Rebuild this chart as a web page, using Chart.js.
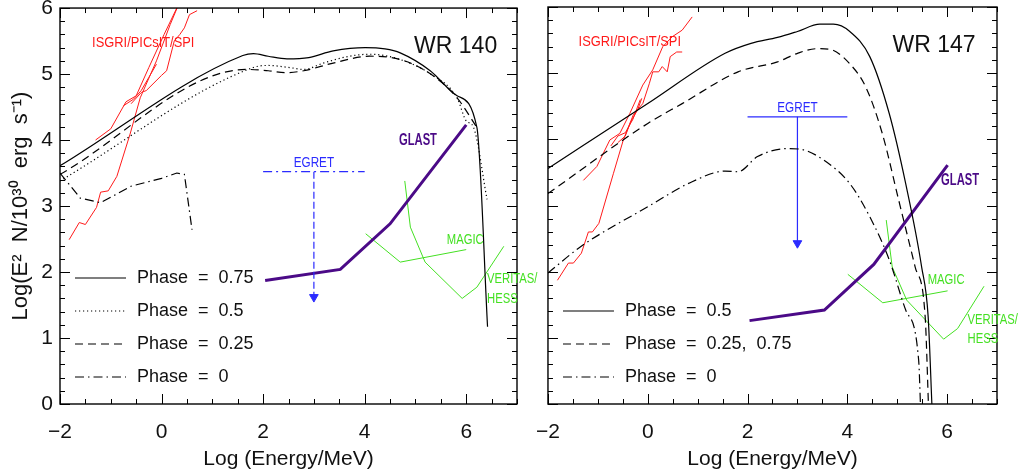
<!DOCTYPE html>
<html>
<head>
<meta charset="utf-8">
<script src="https://cdn.jsdelivr.net/npm/chart.js@4"></script>
<style>
html, body { margin: 0; padding: 0; background: #fff; }
#wrap { position: relative; width: 1023px; height: 472px; overflow: hidden; }
canvas { position: absolute; top: 0; }
</style>
</head>
<body>
<div id="wrap">
<canvas id="left" width="1023" height="472" style="left:0"></canvas>
<canvas id="right" width="503" height="472" style="left:520px"></canvas>
</div>
<script>
// ---- WR 140 model curves [log E, log(E^2 N)] ----
const wr140Phase075 = [[-2,3.61],[1.6,5.28],[1.81,5.31],[2.1,5.27],[2.47,5.23],[2.9,5.25],[3.38,5.35],[4.01,5.40],[4.4,5.38],[4.7,5.32],[5.29,5.05],[5.82,4.67],[6.21,4.19],[6.42,1.17]];
const wr140Phase05 = [[-2,3.38],[1.81,5.10],[2.1,5.13],[2.5,5.10],[2.8,5.07],[3.2,5.17],[3.7,5.27],[4.1,5.30],[4.7,5.22],[5.3,5.00],[5.82,4.64],[6.0,4.29],[6.14,4.20],[6.41,3.10]];
const wr140Phase025 = [[-2,3.48],[1.68,5.07],[2.1,5.05],[2.44,5.02],[2.8,5.05],[3.4,5.17],[4.1,5.27],[4.7,5.22],[5.3,5.00],[5.82,4.64],[6.21,4.19]];
const wr140Phase0 = [[-2,3.50],[-1.6,3.12],[-1.2,3.05],[-0.6,3.30],[0,3.42],[0.3,3.50],[0.45,3.48],[0.6,2.64]];

// ---- WR 147 model curves ----
const wr147Phase05 = [[-2,3.56],[0,4.54],[1.55,5.30],[2.07,5.45],[2.6,5.54],[3.0,5.63],[3.45,5.74],[3.72,5.74],[4.05,5.63],[4.45,5.25],[4.84,4.39],[5.17,3.33],[5.49,2.07],[5.62,1.32],[5.70,-0.1]];
const wr147Phase025 = [[-2,3.18],[0,4.24],[0.69,4.54],[1.81,5.02],[2.6,5.17],[3.0,5.30],[3.39,5.37],[3.65,5.36],[4.05,5.14],[4.37,4.79],[4.7,4.09],[5.03,3.08],[5.36,2.07],[5.56,1.32],[5.63,-0.1]];
const wr147Phase0 = [[-2,1.98],[-1.34,2.38],[0,2.98],[0.89,3.36],[1.55,3.52],[1.81,3.51],[2.2,3.74],[2.8,3.86],[3.06,3.85],[3.52,3.69],[4.05,3.33],[4.45,2.83],[4.84,2.18],[5.17,1.42],[5.43,0.66],[5.47,-0.1]];

// ---- INTEGRAL sensitivities (ISGRI/PICsIT/SPI) ----
const wr140Integral1 = [[-1.3,4.0],[-1.0,4.17],[-0.7,4.58],[-0.5,4.67],[-0.25,5.1],[0.05,5.6],[0.3,6.0],[0.4,6.2]];
const wr140Integral2 = [[-1.82,2.49],[-1.62,2.75],[-1.5,2.72],[-1.28,2.98],[-1.2,3.21],[-1.05,3.23],[-0.88,3.45],[-0.62,4.09],[-0.42,4.64],[-0.1,5.2],[0.17,5.75],[0.36,6.1]];
const wr140Integral3 = [[-0.75,4.52],[-0.55,4.62],[-0.4,4.75],[-0.25,4.95],[-0.1,5.15]];
const wr140Integral4 = [[-0.6,4.55],[-0.4,4.72],[-0.3,4.75],[0.0,4.98],[0.1,5.05],[0.25,5.5],[0.36,5.6],[0.45,5.7],[0.55,5.9],[0.7,5.96]];
const wr147Integral1 = [[-1.81,1.87],[-1.59,2.13],[-1.49,2.13],[-1.33,2.28],[-1.19,2.6],[-1.11,2.6],[-0.98,2.73],[-0.69,3.48],[-0.49,3.99],[-0.29,4.37],[-0.1,4.54],[0.03,4.84],[0.1,5.02],[0.22,5.02],[0.29,5.1],[0.39,5.02],[0.45,5.25],[0.58,5.32],[0.69,5.32]];
const wr147Integral2 = [[-1.29,3.38],[-1.02,3.59],[-0.76,3.99],[-0.56,4.09],[-0.36,4.39],[-0.1,4.82],[0.1,5.05],[0.3,5.4],[0.49,5.55],[0.69,5.65],[0.89,5.85]];
const wr147Integral3 = [[-0.74,3.9],[-0.6,4.05],[-0.45,4.1],[-0.3,4.3],[-0.15,4.6]];
const wr147Integral4 = [[-0.6,3.95],[-0.45,4.05],[-0.35,4.25],[-0.2,4.45],[-0.12,4.62]];

// ---- gamma-ray instruments ----
const wr140EgretBar = [[2.0,3.52],[4.0,3.52]];
const wr140EgretArrow = [[3.0,3.52],[3.0,1.62]];
const wr147EgretBar = [[2.0,4.34],[4.0,4.34]];
const wr147EgretArrow = [[3.0,4.34],[3.0,2.43]];
const wr140Glast = [[2.04,1.87],[3.52,2.04],[4.5,2.73],[6.0,4.23]];
const wr147Glast = [[2.04,1.26],[3.54,1.42],[4.53,2.11],[6.01,3.61]];
const wr140Magic = [[4.02,2.58],[4.70,2.15],[6.0,2.34]];
const wr147Magic = [[4.01,1.96],[4.71,1.53],[6.01,1.71]];
const wr140Veritas = [[4.79,3.38],[4.90,2.68],[5.19,2.15],[5.92,1.60],[6.21,1.77],[6.74,2.39]];
const wr147Veritas = [[4.78,2.78],[4.90,2.07],[5.19,1.57],[5.93,0.98],[6.21,1.14],[6.74,1.78]];

const xTicks = [-2, 0, 2, 4, 6];
const yTicks = [0, 1, 2, 3, 4, 5, 6];

const RED = '#ff1a1a', BLUE = '#2b2bff', PURPLE = '#4b0a87', GREEN = '#44e022';
const FONT = "'Liberation Sans', Arial, sans-serif";
const SOLID = [], DOTTED = [1.2, 2.8], DASHED = [8, 5], DASHDOT = [9, 4, 1.5, 4];

function line(points, opts) {
    return Object.assign({
        data: points.map(p => ({ x: p[0], y: p[1] })),
        showLine: true, pointRadius: 0, borderWidth: 1.2, borderColor: '#000',
        fill: false, tension: 0
    }, opts);
}

function arrow(points, dash) {
    return line(points, {
        borderColor: BLUE, borderDash: dash,
        pointRadius: [0, 5], pointStyle: 'triangle', pointRotation: 180,
        pointBackgroundColor: BLUE, pointBorderColor: BLUE, pointBorderWidth: 1
    });
}

// frame, inward ticks, texts and legend
const panelDecor = {
    id: 'panelDecor',
    afterDatasetsDraw(chart, args, opts) {
        const { ctx, scales: { x, y } } = chart;
        const a = { left: x.left, right: x.right, top: y.top, bottom: y.bottom };
        ctx.save();
        ctx.strokeStyle = '#000';
        ctx.lineWidth = 1;
        ctx.beginPath();
        for (let i = 0; i <= 18; i++) {
            const v = -2 + i * 0.5;
            const px = Math.round(x.getPixelForValue(v)) + 0.5;
            const len = xTicks.includes(v) ? 10 : 5;
            ctx.moveTo(px, a.bottom); ctx.lineTo(px, a.bottom - len);
            ctx.moveTo(px, a.top); ctx.lineTo(px, a.top + len);
        }
        for (let i = 0; i <= 30; i++) {
            const v = i * 0.2;
            const py = Math.round(y.getPixelForValue(v)) + 0.5;
            const len = i % 5 === 0 ? 10 : 5;
            ctx.moveTo(a.left, py); ctx.lineTo(a.left + len, py);
            ctx.moveTo(a.right, py); ctx.lineTo(a.right - len, py);
        }
        ctx.stroke();
        ctx.lineWidth = 1.4;
        ctx.strokeRect(a.left, a.top, a.right - a.left, a.bottom - a.top);

        // labels
        ctx.textBaseline = 'middle';
        opts.labels.forEach(l => {
            ctx.save();
            ctx.translate(x.getPixelForValue(l.x), y.getPixelForValue(l.y));
            ctx.scale(l.sx || 1, 1);
            ctx.font = (l.bold ? 'bold ' : '') + l.size + 'px ' + FONT;
            ctx.fillStyle = l.color;
            ctx.textAlign = l.align || 'center';
            ctx.fillText(l.text, 0, 0);
            ctx.restore();
        });

        // legend, stacked up from the bottom of the plot
        const n = opts.legend.length;
        opts.legend.forEach((item, k) => {
            const ds = chart.data.datasets[item.ds];
            const ly = a.bottom - 27 - (n - 1 - k) * 33;
            ctx.save();
            ctx.strokeStyle = '#000';
            ctx.lineWidth = 1.2;
            ctx.setLineDash(ds.borderDash || []);
            ctx.beginPath();
            ctx.moveTo(a.left + 15, ly); ctx.lineTo(a.left + 66, ly);
            ctx.stroke();
            ctx.restore();
            ctx.font = '18px ' + FONT;
            ctx.fillStyle = '#111';
            ctx.textAlign = 'left';
            ctx.fillText(item.text, a.left + 77, ly);
        });
        ctx.restore();
    }
};

function makeChart(id, datasets, decor, showY, yWidth, padRight) {
    return new Chart(document.getElementById(id), {
        type: 'scatter',
        data: { datasets },
        options: {
            responsive: false, animation: false, devicePixelRatio: 1, events: [],
            layout: { padding: { left: 0, top: 7, right: padRight, bottom: 0 } },
            plugins: { legend: { display: false }, tooltip: { enabled: false }, panelDecor: decor },
            scales: {
                x: {
                    type: 'linear', min: -2, max: 7,
                    afterFit: s => { s.height = 68; },
                    afterBuildTicks: s => { s.ticks = xTicks.map(v => ({ value: v })); },
                    grid: { display: false, drawTicks: false }, border: { display: false },
                    ticks: {
                        padding: 16, color: '#111', font: { family: FONT, size: 21 },
                        callback: v => v < 0 ? '\u2212' + Math.abs(v) : String(v)
                    },
                    title: { display: true, text: 'Log (Energy/MeV)', color: '#111',
                             font: { family: FONT, size: 21 }, padding: { top: 0, bottom: 0 } }
                },
                y: {
                    type: 'linear', min: 0, max: 6,
                    afterFit: s => { s.width = yWidth; },
                    afterBuildTicks: s => { s.ticks = yTicks.map(v => ({ value: v })); },
                    grid: { display: false, drawTicks: false }, border: { display: false },
                    ticks: { display: showY, padding: 7, color: '#111',
                             font: { family: FONT, size: 21, lineHeight: 0.1 } },
                    title: { display: showY, text: 'Log(E\u00b2  N/10\u00b3\u2070  erg  s\u207b\u00b9)', color: '#111',
                             font: { family: FONT, size: 22 }, padding: { top: 8, bottom: 0 } }
                }
            }
        },
        plugins: [panelDecor]
    });
}

const smooth = { cubicInterpolationMode: 'monotone' };

const leftSets = [
    line(wr140Phase075, Object.assign({ borderDash: SOLID }, smooth)),
    line(wr140Phase05, Object.assign({ borderDash: DOTTED }, smooth)),
    line(wr140Phase025, Object.assign({ borderDash: DASHED }, smooth)),
    line(wr140Phase0, { borderDash: DASHDOT }),
    line(wr140Integral1, { borderColor: RED, borderWidth: 1 }),
    line(wr140Integral2, { borderColor: RED, borderWidth: 1 }),
    line(wr140Integral3, { borderColor: RED, borderWidth: 1 }),
    line(wr140Integral4, { borderColor: RED, borderWidth: 1 }),
    line(wr140EgretBar, { borderColor: BLUE, borderDash: [9, 4, 2, 4] }),
    arrow(wr140EgretArrow, [7, 3]),
    line(wr140Glast, { borderColor: PURPLE, borderWidth: 3 }),
    line(wr140Magic, { borderColor: GREEN, borderWidth: 1 }),
    line(wr140Veritas, { borderColor: GREEN, borderWidth: 1 })
];

const rightSets = [
    line(wr147Phase05, Object.assign({ borderDash: SOLID }, smooth)),
    line(wr147Phase025, Object.assign({ borderDash: DASHED }, smooth)),
    line(wr147Phase0, Object.assign({ borderDash: DASHDOT }, smooth)),
    line(wr147Integral1, { borderColor: RED, borderWidth: 1 }),
    line(wr147Integral2, { borderColor: RED, borderWidth: 1 }),
    line(wr147Integral3, { borderColor: RED, borderWidth: 1 }),
    line(wr147Integral4, { borderColor: RED, borderWidth: 1 }),
    line(wr147EgretBar, { borderColor: BLUE }),
    arrow(wr147EgretArrow, []),
    line(wr147Glast, { borderColor: PURPLE, borderWidth: 3 }),
    line(wr147Magic, { borderColor: GREEN, borderWidth: 1 }),
    line(wr147Veritas, { borderColor: GREEN, borderWidth: 1 })
];

makeChart('left', leftSets, {
    labels: [
        { text: 'ISGRI/PICsIT/SPI', x: -0.36, y: 5.47, color: RED, size: 14, sx: 0.92 },
        { text: 'WR 140', x: 6.61, y: 5.42, color: '#111', size: 23, align: 'right' },
        { text: 'EGRET', x: 3.0, y: 3.66, color: BLUE, size: 15, sx: 0.78 },
        { text: 'GLAST', x: 5.05, y: 3.99, color: PURPLE, size: 16, bold: true, sx: 0.7 },
        { text: 'MAGIC', x: 5.98, y: 2.49, color: GREEN, size: 15, sx: 0.75 },
        { text: 'VERITAS/', x: 6.41, y: 1.90, color: GREEN, size: 15, sx: 0.75, align: 'left' },
        { text: 'HESS', x: 6.41, y: 1.60, color: GREEN, size: 15, sx: 0.75, align: 'left' }
    ],
    legend: [
        { ds: 0, text: 'Phase  =  0.75' },
        { ds: 1, text: 'Phase  =  0.5' },
        { ds: 2, text: 'Phase  =  0.25' },
        { ds: 3, text: 'Phase  =  0' }
    ]
}, true, 60, 506);

makeChart('right', rightSets, {
    labels: [
        { text: 'ISGRI/PICsIT/SPI', x: -0.36, y: 5.47, color: RED, size: 14, sx: 0.92 },
        { text: 'WR 147', x: 6.57, y: 5.42, color: '#111', size: 23, align: 'right' },
        { text: 'EGRET', x: 3.0, y: 4.47, color: BLUE, size: 15, sx: 0.78 },
        { text: 'GLAST', x: 6.26, y: 3.37, color: PURPLE, size: 16, bold: true, sx: 0.7 },
        { text: 'MAGIC', x: 5.98, y: 1.87, color: GREEN, size: 15, sx: 0.75 },
        { text: 'VERITAS/', x: 6.41, y: 1.27, color: GREEN, size: 15, sx: 0.75, align: 'left' },
        { text: 'HESS', x: 6.41, y: 0.98, color: GREEN, size: 15, sx: 0.75, align: 'left' }
    ],
    legend: [
        { ds: 0, text: 'Phase  =  0.5' },
        { ds: 1, text: 'Phase  =  0.25,  0.75' },
        { ds: 2, text: 'Phase  =  0' }
    ]
}, false, 20, 26);
</script>
</body>
</html>
